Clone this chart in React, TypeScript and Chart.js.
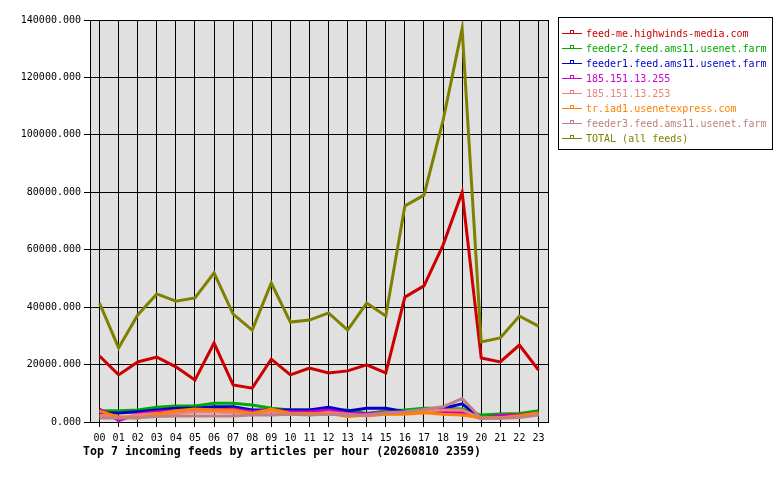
import React, { useEffect, useRef } from "react";
import { Chart, registerables } from "chart.js";

Chart.register(...registerables);

const hours = ["00","01","02","03","04","05","06","07","08","09","10","11","12","13","14","15","16","17","18","19","20","21","22","23"];

const feedMe = [23000,16400,20900,22600,19200,14600,27500,12900,11800,21900,16400,18800,17100,17800,19900,17100,43500,47400,61600,80000,22300,20900,26800,18100];
const feeder2 = [3900,3900,4200,5100,5600,5600,6500,6500,5900,4800,4200,4200,4200,4200,3000,3800,4200,4800,4800,4500,2400,2800,3000,3900];
const feeder1 = [3100,3100,3600,4200,4800,4800,5300,5300,4200,4200,4200,4200,5100,3800,4800,4800,3600,3800,4800,6300,1500,1800,2200,3200];
const ip255 = [4500,500,2800,3600,3900,3600,4200,4500,3600,4200,3600,3600,4200,3000,3000,3400,3400,3600,3400,3200,1200,2300,2500,3000];
const ip253 = [2400,1500,2400,3000,3000,3600,3500,3300,3000,3600,3000,2700,3300,2700,2100,2700,3300,3800,4200,4200,1300,1500,1800,2700];
const trIad1 = [3800,1800,1300,2800,3900,4500,4200,4200,3000,4500,3000,3000,3000,1900,2400,2700,2700,3200,2700,2400,1500,1500,2200,3200];
const feeder3 = [1400,1400,1500,1900,2100,2100,2100,2100,2400,2400,2700,2400,2700,2400,2400,3200,3600,4400,5300,8200,1300,1300,1600,2400];
const total = [41400,25800,37300,44600,42100,43200,51900,37600,32000,48400,34800,35500,38000,32000,41400,36900,75200,79000,105000,137000,27900,29300,36900,33400];

const seriesNames = [
  "feed-me.highwinds-media.com",
  "feeder2.feed.ams11.usenet.farm",
  "feeder1.feed.ams11.usenet.farm",
  "185.151.13.255",
  "185.151.13.253",
  "tr.iad1.usenetexpress.com",
  "feeder3.feed.ams11.usenet.farm",
  "TOTAL (all feeds)",
];
const seriesData = [feedMe, feeder2, feeder1, ip255, ip253, trIad1, feeder3, total];
const seriesColors = ["#cc0000", "#00aa00", "#0000cc", "#cc00cc", "#f08080", "#ff8000", "#c08080", "#808000"];

const titleText = "Top 7 incoming feeds by articles per hour (20260810 2359)";
const MONO = "'DejaVu Sans Mono', monospace";

export default function App() {
  const ref = useRef<HTMLCanvasElement | null>(null);

  useEffect(() => {
    document.body.style.margin = "0";
    const canvas = ref.current;
    if (!canvas) return;

    const framePlugin = {
      id: "frame",
      beforeDraw(chart: any) {
        const { ctx, chartArea: a } = chart;
        ctx.save();
        ctx.fillStyle = "#ffffff";
        ctx.fillRect(0, 0, chart.width, chart.height);
        ctx.fillStyle = "#e0e0e0";
        ctx.fillRect(a.left, a.top, a.right - a.left, a.bottom - a.top);
        ctx.restore();
      },
      afterDraw(chart: any) {
        const { ctx, chartArea: a } = chart;
        ctx.save();
        ctx.strokeStyle = "#000";
        ctx.lineWidth = 1;
        ctx.strokeRect(Math.round(a.left) + 0.5, Math.round(a.top) + 0.5, Math.round(a.right - a.left), Math.round(a.bottom - a.top));

        // title
        ctx.fillStyle = "#000";
        ctx.font = "bold 11.6px " + MONO;
        ctx.textBaseline = "middle";
        ctx.textAlign = "left";
        ctx.fillText(titleText, 83, 452);

        // legend
        const bx = 558, by = 17, bw = 214, bh = 132;
        ctx.fillStyle = "#fff";
        ctx.fillRect(bx, by, bw, bh);
        ctx.strokeStyle = "#000";
        ctx.strokeRect(bx + 0.5, by + 0.5, bw, bh);
        ctx.font = "10px " + MONO;
        seriesNames.forEach((name, i) => {
          const y = 33 + i * 15;
          const c = seriesColors[i];
          ctx.strokeStyle = c;
          ctx.lineWidth = 1;
          ctx.beginPath();
          ctx.moveTo(562, y + 0.5);
          ctx.lineTo(582, y + 0.5);
          ctx.stroke();
          ctx.strokeRect(570.5, y - 2.5, 3, 3);
          ctx.fillStyle = c;
          ctx.fillText(name, 586, y + 1);
        });
        ctx.restore();
      },
    };

    const chart = new Chart(canvas, {
      type: "line",
      data: {
        labels: hours,
        datasets: seriesData.map((d, i) => ({
          label: seriesNames[i],
          data: d,
          borderColor: seriesColors[i],
          backgroundColor: seriesColors[i],
          borderWidth: 3,
          pointRadius: 0,
          tension: 0,
          fill: false,
          order: seriesData.length - i,
        })),
      },
      options: {
        animation: false,
        responsive: false,
        devicePixelRatio: 1,
        layout: { padding: { left: 0, top: 20, right: 232, bottom: 0 } },
        plugins: {
          legend: { display: false },
          tooltip: { enabled: false },
          title: { display: false },
        },
        scales: {
          x: {
            type: "category",
            offset: true,
            grid: { display: true, offset: false, color: "#000", lineWidth: 1, tickLength: 5, tickColor: "#000" },
            border: { display: true, color: "#000" },
            ticks: {
              color: "#000",
              font: { family: MONO, size: 10 },
              padding: 5,
              maxRotation: 0,
              autoSkip: false,
            },
            afterFit(scale: any) {
              scale.height = 58;
            },
          },
          y: {
            min: 0,
            max: 140000,
            grid: { color: "#000", lineWidth: 1, tickLength: 6, tickColor: "#000" },
            border: { display: true, color: "#000" },
            ticks: {
              stepSize: 20000,
              color: "#000",
              font: { family: MONO, size: 10 },
              padding: 3,
              callback: (v: any) => Number(v).toFixed(3),
            },
            afterFit(scale: any) {
              scale.width = 90;
            },
          },
        },
      },
      plugins: [framePlugin],
    });

    return () => chart.destroy();
  }, []);

  return (
    <div style={{ width: 780, height: 480 }}>
      <canvas ref={ref} width={780} height={480} style={{ width: 780, height: 480, display: "block" }} />
    </div>
  );
}
